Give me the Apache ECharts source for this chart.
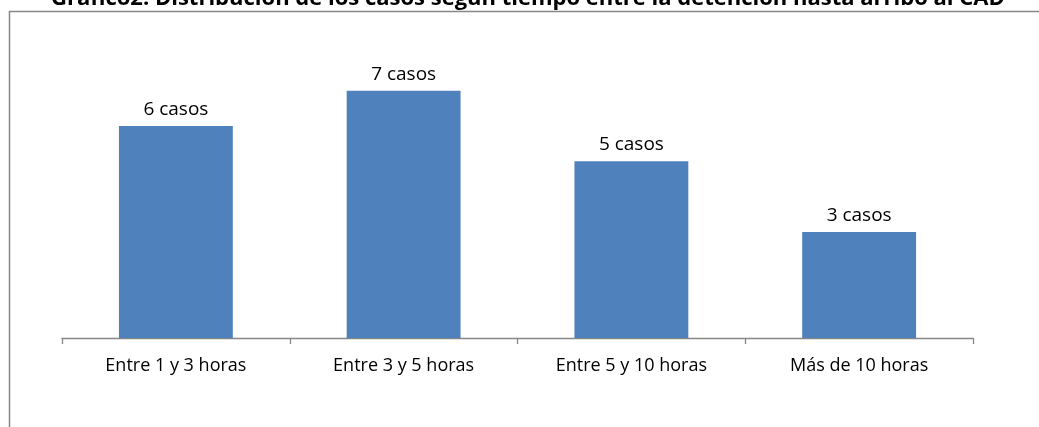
<!DOCTYPE html>
<html><head><meta charset="utf-8">
<script src="https://cdn.jsdelivr.net/npm/echarts@6/dist/echarts.min.js"></script>
<style>html,body{margin:0;padding:0;background:#fff}#c{width:1039px;height:427px}</style>
</head><body><div id="c"></div>
<script>
const titleText = 'Gráfico2. Distribución de los casos según tiempo entre la detención hasta arribo al CAD';
const categories = ['Entre 1 y 3 horas', 'Entre 3 y 5 horas', 'Entre 5 y 10 horas', 'Más de 10 horas'];
const values = [6, 7, 5, 3];
const labelSuffix = ' casos';

const chart = echarts.init(document.getElementById('c'), null, {renderer: 'canvas'});
chart.setOption({
  animation: false,
  title: {
    text: titleText, left: 46, top: -17, padding: 5,
    textStyle: {fontFamily: 'Open Sans', fontWeight: 'bold', fontSize: 22, color: '#000'}
  },
  graphic: [{
    type: 'rect', left: 7, top: 9, z: -1,
    shape: {width: 1100, height: 500},
    style: {fill: 'none', stroke: '#878787', lineWidth: 1.5}
  }],
  grid: {left: 62, right: 66, top: 55.3, bottom: 89},
  xAxis: {
    type: 'category', data: categories,
    axisLine: {lineStyle: {color: '#868686', width: 1.3}},
    axisTick: {show: true, length: 6, lineStyle: {color: '#868686', width: 1.3}},
    axisLabel: {fontFamily: 'Open Sans', fontSize: 18, color: '#000', margin: 19}
  },
  yAxis: {type: 'value', min: 0, max: 8, show: false, splitLine: {show: false}},
  series: [{
    type: 'bar', data: values, barWidth: '50%',
    itemStyle: {color: '#4F81BD'},
    label: {
      show: true, position: 'top', distance: 7,
      formatter: p => p.value + labelSuffix,
      fontFamily: 'Open Sans', fontSize: 19, color: '#000'
    }
  }]
});
</script></body></html>
